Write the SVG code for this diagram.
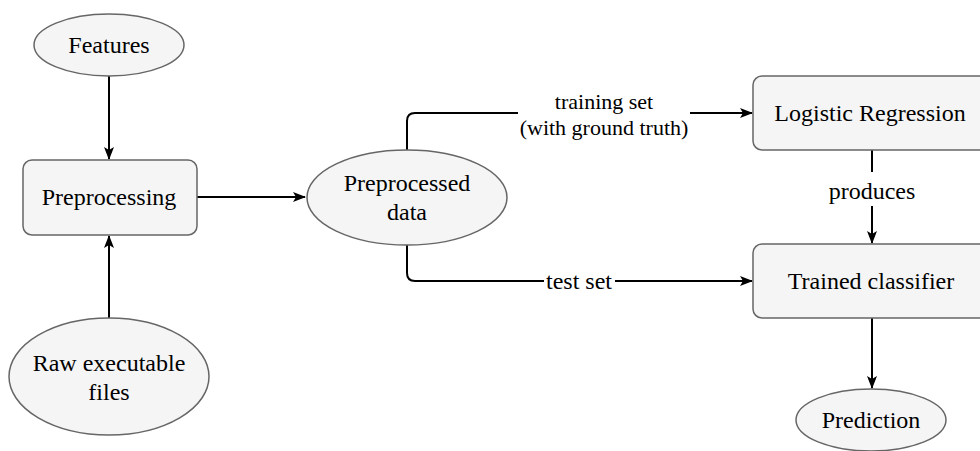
<svg xmlns="http://www.w3.org/2000/svg" width="980" height="451" viewBox="0 0 980 451">
<style>
.node{fill:#f5f5f5;stroke:#666666;stroke-width:1.5}
.t{font-family:'Liberation Serif','DejaVu Serif',serif;font-size:24px;fill:#000;text-anchor:middle}
.s{font-size:22px}
.e{fill:none;stroke:#000;stroke-width:2}
.bg{fill:#ffffff}
</style>
<defs>
<marker id="arr" markerWidth="13" markerHeight="10" refX="12" refY="5" orient="auto" markerUnits="userSpaceOnUse">
<path d="M0,0 L13,5 L0,10 L3,5 Z" fill="#000"/>
</marker>
</defs>
<g id="connectors">
<path class="e" d="M109,76 L109,159" marker-end="url(#arr)"/>
<path class="e" d="M109,318 L109,236" marker-end="url(#arr)"/>
<path class="e" d="M197,197 L305,197" marker-end="url(#arr)"/>
<path class="e" d="M407,150 L407,121 Q407,113 415,113 L752,113" marker-end="url(#arr)"/>
<path class="e" d="M407,245 L407,273 Q407,281 415,281 L752,281" marker-end="url(#arr)"/>
<path class="e" d="M872,150 L872,243" marker-end="url(#arr)"/>
<path class="e" d="M872,318 L872,388" marker-end="url(#arr)"/>
<rect class="bg" x="518" y="89" width="172" height="52"/>
<text class="t s" x="604" y="109" font-family="Liberation Serif">training set</text>
<text class="t s" x="604" y="135" font-family="Liberation Serif">(with ground truth)</text>
<rect class="bg" x="544" y="268" width="71" height="26"/>
<text class="t" x="579" y="289" font-family="Liberation Serif">test set</text>
<rect class="bg" x="824" y="172" width="96" height="34"/>
<text class="t" x="872" y="199" font-family="Liberation Serif">produces</text>
</g>
<g id="features">
<ellipse class="node" cx="109" cy="45" rx="75" ry="31"/>
<text class="t" x="109" y="53" font-family="Liberation Serif">Features</text>
</g>
<g id="preprocessing">
<rect class="node" x="23" y="160" width="174" height="75" rx="9"/>
<text class="t" x="109" y="205" font-family="Liberation Serif">Preprocessing</text>
</g>
<g id="raw">
<ellipse class="node" cx="109" cy="376.5" rx="100" ry="58.5"/>
<text class="t" x="109" y="371" font-family="Liberation Serif">Raw executable</text>
<text class="t" x="109" y="400" font-family="Liberation Serif">files</text>
</g>
<g id="preprocessed">
<ellipse class="node" cx="407" cy="197.5" rx="100" ry="47.5"/>
<text class="t" x="407" y="191" font-family="Liberation Serif">Preprocessed</text>
<text class="t" x="407" y="220" font-family="Liberation Serif">data</text>
</g>
<g id="logistic">
<rect class="node" x="753" y="76" width="238" height="74" rx="9"/>
<text class="t" x="870" y="121" font-family="Liberation Serif">Logistic Regression</text>
</g>
<g id="trained">
<rect class="node" x="753" y="244" width="238" height="74" rx="9"/>
<text class="t" x="871" y="289" font-family="Liberation Serif">Trained classifier</text>
</g>
<g id="prediction">
<ellipse class="node" cx="871" cy="420" rx="75" ry="31"/>
<text class="t" x="871" y="428" font-family="Liberation Serif">Prediction</text>
</g>
</svg>
